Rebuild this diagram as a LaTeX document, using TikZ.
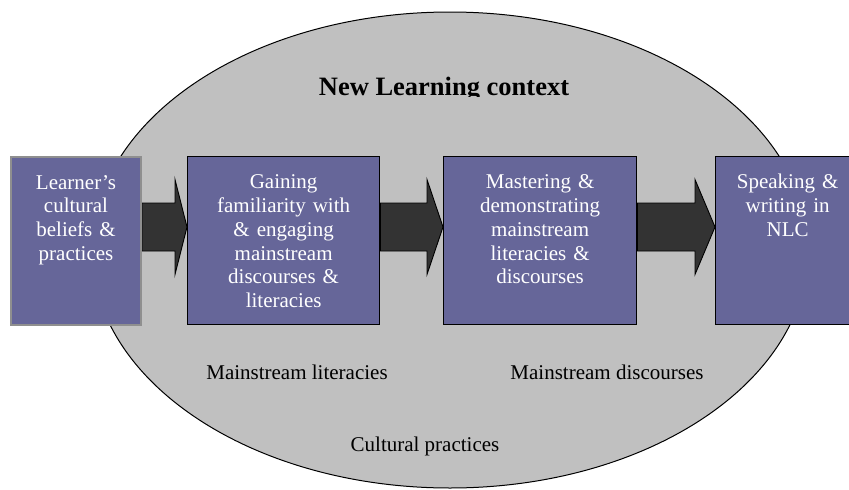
\documentclass[tikz,border=0pt]{standalone}
\usepackage{fontspec}
\setmainfont{Liberation Serif}
\usetikzlibrary{calc,backgrounds}

\definecolor{stepfill}{HTML}{666699}
\definecolor{ctxfill}{HTML}{C0C0C0}
\definecolor{arrowfill}{HTML}{333333}
\definecolor{firstborder}{HTML}{8F8F8F}

% fat block arrow from one box to the next, along the axis coordinate
\newcommand{\fatarrow}[3]{%
    \draw[fill=arrowfill, draw=black, line width=0.9pt]
        let \p1=(#1.east |- axis), \p2=(#2.west |- axis) in
        (\x1,\y1+24pt) -- (\x2-#3,\y1+24pt) -- (\x2-#3,\y1+47.5pt) -- (\x2,\y1)
        -- (\x2-#3,\y1-47.5pt) -- (\x2-#3,\y1-24pt) -- (\x1,\y1-24pt) -- cycle;}

\begin{document}
\begin{tikzpicture}[x=1pt, y=-1pt,
        ctxlabel/.style={anchor=base, font=\fontsize{21}{24}\selectfont}]
            \useasboundingbox (0,0) rectangle (849,490);
            \clip (0,0) rectangle (849,490);
            \coordinate (axis) at (0,227);
            \begin{scope}[every node/.style={rectangle,draw=black,line width=1.3pt,fill=stepfill,text=white,
                    anchor=north west,inner sep=0pt,align=center,text height=32pt,text depth=136pt,
                    font=\fontsize{21}{23.8}\selectfont}]
                \node[draw=firstborder, line width=2pt, text width=130pt] (learner) at (10,156) {Learner's\\cultural\\beliefs \&\\practices};
                \node[text width=192pt] (gaining) at (187,156) {Gaining\\familiarity with\\\& engaging\\mainstream\\discourses \&\\literacies};
                \node[text width=193pt] (mastering) at (443,156) {Mastering \&\\demonstrating\\mainstream\\literacies \&\\discourses};
                \node[text width=144pt] (speaking) at (715,156) {Speaking \&\\writing in\\NLC};
            \end{scope}
            \begin{scope}[on background layer]
                \draw[fill=ctxfill, line width=1pt] (450,250) ellipse [x radius=358pt, y radius=238pt];
                \fatarrow{learner}{gaining}{12pt}
                \fatarrow{gaining}{mastering}{16pt}
                \fatarrow{mastering}{speaking}{20pt}
            \end{scope}
            \begin{scope}
                \clip (300,60) rectangle (600,96);
                \node[anchor=base, font=\fontsize{26.5}{30}\selectfont\bfseries] (title) at (444,95) {New Learning context};
            \end{scope}
            \node[ctxlabel] (literacies) at (297,379) {Mainstream literacies};
            \node[ctxlabel] (discourses) at (607,379) {Mainstream discourses};
            \node[ctxlabel] (cultural) at (425,451) {Cultural practices};
\end{tikzpicture}
\end{document}
